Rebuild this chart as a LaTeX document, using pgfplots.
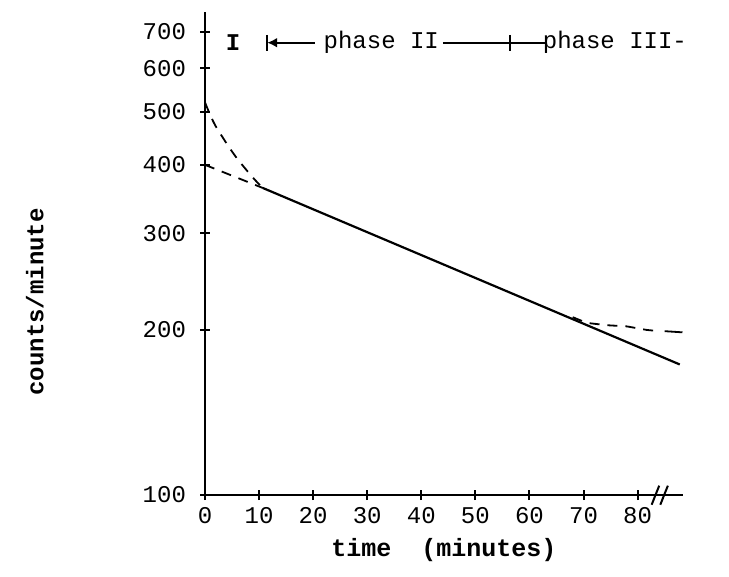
\documentclass[border=0pt]{standalone}
\usepackage{fontspec}
\setmainfont{Liberation Mono}
\setmonofont{Liberation Mono}
\usepackage{pgfplots}
\pgfplotsset{compat=1.18}
\usetikzlibrary{arrows.meta}

\begin{document}
\begin{tikzpicture}
\begin{axis}[
    name=ax,
    scale only axis,
    width=239pt, height=241.5pt,
    ymode=log,
    xmin=0, xmax=88.4,
    ymin=100, ymax=760,
    axis lines*=left,
    axis line style={line width=1.3pt},
    xtick={0,10,...,80},
    ytick={100,200,300,400,500,600,700},
    yminorticks=false,
    log ticks with fixed point,
    /pgf/number format/assume math mode=true,
    tick align=center,
    major tick length=5pt,
    tick style={line width=1pt, black},
    tick label style={font=\fontsize{12}{14}\selectfont},
    yticklabel style={xshift=-3.5pt},
    xlabel={\textbf{time\ \ (minutes)}},
    xlabel style={font=\fontsize{12.5}{15}\selectfont, at={(axis description cs:0.5,0)}, anchor=center, yshift=-27.5pt},
    ylabel={counts/minute},
    ylabel style={font=\fontsize{12}{14}\selectfont\bfseries, at={(axis description cs:-0.356,0.40)}, anchor=center},
    clip=false,
]
% phase I extrapolation (curved) and initial line
\addplot[black, line width=0.9pt, dash pattern=on 5pt off 4pt, smooth]
    coordinates {(0,520) (1.0,492) (2.0,470) (3.2,450) (4.5,430) (6.0,410) (7.8,390) (9.3,375) (10.7,363)};
\addplot[black, line width=0.9pt, dash pattern=on 5pt off 4pt]
    coordinates {(0,400) (10.7,363)};
% phase II main line
\addplot[black, line width=1.1pt]
    coordinates {(10.7,363) (87.8,173)};
% phase III departure
\addplot[black, line width=0.9pt, dash pattern=on 5pt off 4pt]
    coordinates {(68,211) (70.6,206) (74.3,204) (78,203) (81.7,200) (84,199)};
\addplot[black, line width=0.9pt]
    coordinates {(85,199) (88.3,198)};

% phase labels
\node[font=\fontsize{12}{14}\selectfont\bfseries] at (axis cs:5.2,668) {I};
\draw[line width=1.2pt, {Latex[length=5pt,width=5pt]}-] (axis cs:11.5,668) -- (axis cs:20.3,668);
\draw[line width=1.2pt] (axis cs:11.5,690) -- (axis cs:11.5,646);
\node[font=\fontsize{12}{14}\selectfont] at (axis cs:32.6,668) {phase II};
\draw[line width=1.2pt] (axis cs:44,668) -- (axis cs:63.2,668);
\draw[line width=1.2pt] (axis cs:56.4,690) -- (axis cs:56.4,646);
\node[font=\fontsize{12}{14}\selectfont] at (axis cs:75.8,668) {phase III-};
% axis break marks
\draw[line width=1pt] (axis cs:82.6,96) -- (axis cs:84.0,104);
\draw[line width=1pt] (axis cs:84.2,96) -- (axis cs:85.6,104);
\end{axis}
\pgfresetboundingbox
\path[use as bounding box] ([shift={(-102.5pt,-40.5pt)}]ax.south west) rectangle ([shift={(23pt,6pt)}]ax.north east);
\end{tikzpicture}
\end{document}
